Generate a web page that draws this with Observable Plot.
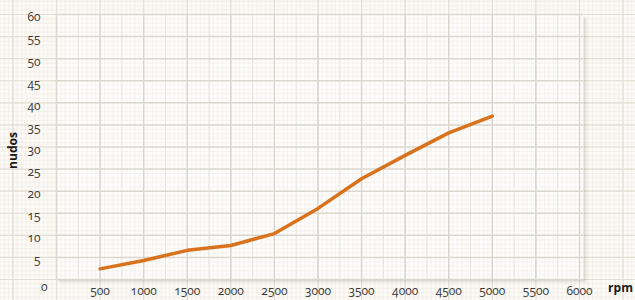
<!DOCTYPE html>
<html>
<head>
<meta charset="utf-8">
<script src="https://cdn.jsdelivr.net/npm/d3@7"></script>
<script src="https://cdn.jsdelivr.net/npm/@observablehq/plot@0.6"></script>
<style>
  html, body { margin: 0; padding: 0; background: #fcfaf6; }
  #chart svg { display: block; }
</style>
</head>
<body>
<div id="chart"></div>
<script>
// Data
const rpm   = [500, 1000, 1500, 2000, 2500, 3000, 3500, 4000, 4500, 5000];
const nudos = [2.4, 4.3, 6.6, 7.7, 10.4, 16.1, 22.8, 28.1, 33.2, 37.0];
// Tick labels
const xTicks = [500, 1000, 1500, 2000, 2500, 3000, 3500, 4000, 4500, 5000, 5500, 6000];
const yTicks = [5, 10, 15, 20, 25, 30, 35, 40, 45, 50, 55, 60];

const data = rpm.map((r, i) => ({rpm: r, nudos: nudos[i]}));

const font = "'Open Sans', sans-serif";

// graph-paper lines
const bgFineX = d3.range(-1300, 7400, 50);
const bgFineY = d3.range(-6, 67, 1);
const bgMajX = bgFineX.filter(v => v % 500 === 0);
const bgMajY = bgFineY.filter(v => v % 5 === 0);
const inFineX = d3.range(0, 6001, 50);
const inFineY = d3.range(0, 61, 1);
const inMedX = inFineX.filter(v => v % 250 === 0);
const inMajX = inFineX.filter(v => v % 500 === 0);
const inMajY = inFineY.filter(v => v % 5 === 0);

const shadow = [1, 2, 3, 4].map(k => Plot.frame({
  fill: "#6b6255", fillOpacity: 0.05, stroke: null,
  insetRight: -4, insetLeft: -1, dx: k, dy: k
}));

const plot = Plot.plot({
  width: 635,
  height: 300,
  marginLeft: 56,
  marginRight: 56,
  marginTop: 14,
  marginBottom: 21,
  style: {background: "#fcfaf6", fontFamily: font},
  x: {domain: [0, 6000], axis: null},
  y: {domain: [0, 60], axis: null},
  marks: [
    // background graph paper
    Plot.ruleX(bgFineX, {x: d => d, y1: -6, y2: 66, stroke: "#eee9e1", strokeWidth: 0.6}),
    Plot.ruleY(bgFineY, {y: d => d, x1: -1300, x2: 7400, stroke: "#eee9e1", strokeWidth: 0.6}),
    Plot.ruleX(bgMajX, {x: d => d, y1: -6, y2: 66, stroke: "#e3ded4", strokeWidth: 1.2}),
    Plot.ruleY(bgMajY, {y: d => d, x1: -1300, x2: 7400, stroke: "#e3ded4", strokeWidth: 1.2}),
    // panel shadow + panel
    ...shadow,
    Plot.frame({fill: "#fefdfb", stroke: null, insetRight: -4, insetLeft: -1}),
    // panel graph paper
    Plot.ruleX(inFineX, {x: d => d, y1: 0, y2: 60, stroke: "#f0ede7", strokeWidth: 0.6}),
    Plot.ruleY(inFineY, {y: d => d, x1: -12, x2: 6045, stroke: "#f0ede7", strokeWidth: 0.6}),
    Plot.ruleX(inMedX, {x: d => d, y1: 0, y2: 60, stroke: "#e8e4dd", strokeWidth: 1}),
    Plot.ruleX(inMajX, {x: d => d, y1: 0, y2: 60, stroke: "#dbd7cf", strokeWidth: 1.5}),
    Plot.ruleY(inMajY, {y: d => d, x1: -12, x2: 6045, stroke: "#dbd7cf", strokeWidth: 1.5}),
    // data line
    Plot.line(data, {x: "rpm", y: "nudos", stroke: "#d9721c", strokeWidth: 3.5, strokeLinejoin: "miter"}),
    // tick labels
    Plot.text(xTicks, {x: d => d, y: 0, text: d => String(d), dy: 12, fill: "#3a3a3a", fontSize: 12}),
    Plot.text(yTicks, {x: 0, y: d => d, text: d => String(d), dx: -16, dy: 3, textAnchor: "end", fill: "#3a3a3a", fontSize: 12}),
    Plot.text(["0"], {x: 0, y: 0, text: d => d, dx: -9, dy: 8, textAnchor: "end", fill: "#3a3a3a", fontSize: 12}),
    // axis titles
    Plot.text(["rpm"], {frameAnchor: "bottom-right", text: d => d, dx: 41, dy: 12, textAnchor: "middle", fontWeight: "bold", fontSize: 12, fill: "#1a1a1a"}),
    Plot.text(["nudos"], {frameAnchor: "left", text: d => d, dx: -43, dy: 3.5, rotate: -90, textAnchor: "middle", fontWeight: "bold", fontSize: 12, fill: "#1a1a1a"})
  ]
});

plot.style.fontVariantNumeric = "oldstyle-nums";
document.getElementById("chart").appendChild(plot);
</script>
</body>
</html>
